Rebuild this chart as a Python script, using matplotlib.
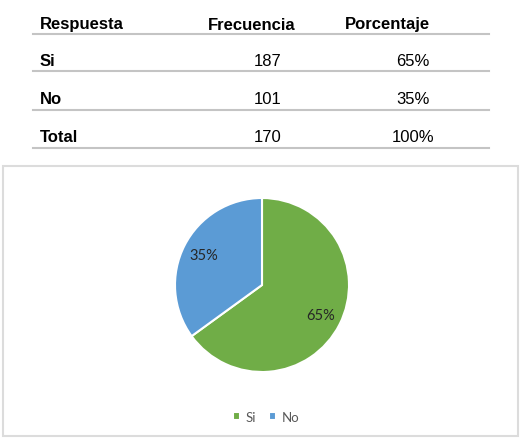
import matplotlib.pyplot as plt
from matplotlib.lines import Line2D
from matplotlib.patches import Rectangle

# table data
col_headers = ["Respuesta", "Frecuencia", "Porcentaje"]
respuestas = ["Si", "No", "Total"]
frecuencias = [187, 101, 170]
porcentajes_txt = ["65%", "35%", "100%"]

# pie data
pie_labels = ["Si", "No"]
pie_values = [65, 35]
pie_colors = ["#70AD47", "#5B9BD5"]

W, H = 526, 439
fig = plt.figure(figsize=(W / 100, H / 100), dpi=100)


def fx(px):
    return px / W


def fy(py):
    return 1 - py / H


# ---- table ----
tfont = "Liberation Sans"
fs = 12
fig.text(fx(40), fy(25), col_headers[0], fontsize=fs, fontweight="bold",
         family=tfont, va="center", ha="left")
fig.text(fx(252), fy(25), col_headers[1], fontsize=fs, fontweight="bold",
         family=tfont, va="center", ha="center")
fig.text(fx(387), fy(25), col_headers[2], fontsize=fs, fontweight="bold",
         family=tfont, va="center", ha="center")

line_y = [35, 72, 111, 149]
for y in line_y:
    fig.add_artist(Line2D([fx(33), fx(489)], [fy(y), fy(y)], color="#c4c4c4", lw=1.5))

row_y = [62, 100, 138]
for i, y in enumerate(row_y):
    fig.text(fx(40), fy(y), respuestas[i], fontsize=fs, fontweight="bold",
             family=tfont, va="center", ha="left")
    fig.text(fx(268), fy(y), str(frecuencias[i]), fontsize=fs,
             family=tfont, va="center", ha="center")
    fig.text(fx(413), fy(y), porcentajes_txt[i], fontsize=fs,
             family=tfont, va="center", ha="center")

# ---- chart box ----
fig.add_artist(Rectangle((fx(3), fy(437)), fx(515), (437 - 167) / H,
                         transform=fig.transFigure, fill=False,
                         edgecolor="#dcdcdc", lw=1.5))

# ---- pie ----
cx, cy, r = 262, 286, 87
side = 180
ax = fig.add_axes([fx(cx - side / 2), fy(cy + side / 2), side / W, side / H])
lim = side / 2 / r
wedges, texts, autotexts = ax.pie(
    pie_values, colors=pie_colors, startangle=90, counterclock=False,
    autopct="%d%%", pctdistance=0.75,
    wedgeprops=dict(edgecolor="white", linewidth=1.5),
    textprops=dict(fontsize=10.5, family="Lato", color="#262626"))
ax.set_xlim(-lim, lim)
ax.set_ylim(-lim, lim)
ax.set_aspect("equal")
ax.axis("off")

fig.legend(wedges, pie_labels, loc="center", bbox_to_anchor=(fx(266), fy(418)),
           ncol=2, frameon=False, handlelength=0.55, handleheight=0.55,
           handletextpad=0.4, columnspacing=1.0,
           prop=dict(family="Lato", size=9.5), labelcolor="#595959")

fig.savefig("out.png", dpi=100)
